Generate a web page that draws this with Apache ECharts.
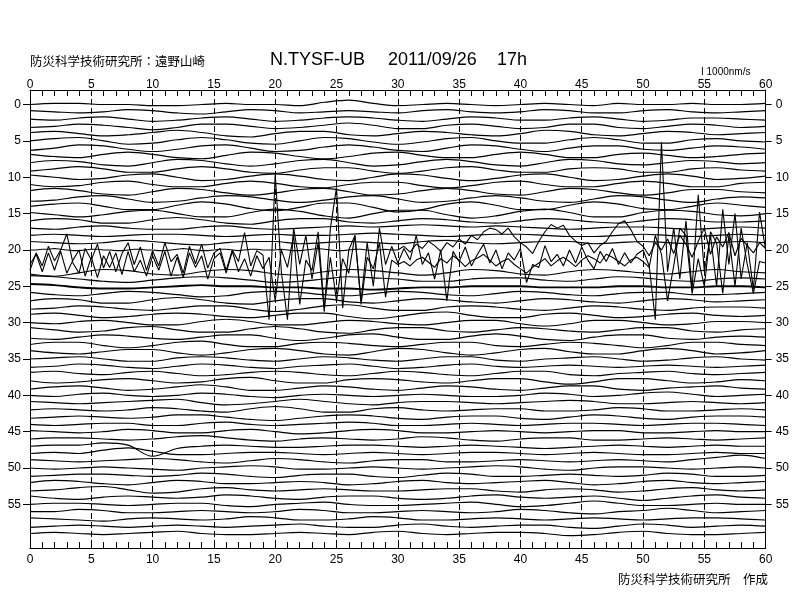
<!DOCTYPE html>
<html><head><meta charset="utf-8">
<script src="https://cdn.jsdelivr.net/npm/echarts@6/dist/echarts.min.js"></script>
<style>html,body{margin:0;padding:0;background:#fff}#c{width:792px;height:612px}</style>
</head><body><div id="c"></div>
<script>
// time grid (seconds within each minute row)
const secondsCoarse = [0,2,4,6,8,10,12,14,16,18,20,22,24,26,28,30,32,34,36,38,40,42,44,46,48,50,52,54,56,58,60];
const secondsFine = [0,0.5,1,1.5,2,2.5,3,3.5,4,4.5,5,5.5,6,6.5,7,7.5,8,8.5,9,9.5,
 10,10.5,11,11.5,12,12.5,13,13.5,14,14.5,15,15.5,16,16.5,17,17.5,18,18.5,19,19.5,
 20,20.5,21,21.5,22,22.5,23,23.5,24,24.5,25,25.5,26,26.5,27,27.5,28,28.5,29,29.5,
 30,30.5,31,31.5,32,32.5,33,33.5,34,34.5,35,35.5,36,36.5,37,37.5,38,38.5,39,39.5,
 40,40.5,41,41.5,42,42.5,43,43.5,44,44.5,45,45.5,46,46.5,47,47.5,48,48.5,49,49.5,
 50,50.5,51,51.5,52,52.5,53,53.5,54,54.5,55,55.5,56,56.5,57,57.5,58,58.5,59,59.5,60];
const rowLabels = [0,5,10,15,20,25,30,35,40,45,50,55];

// quiet rows: amplitude in units of ~150 nm/s, positive = up
const waveTraces = [
 [0,1,1,0,0,-1,-1,0,1,0,0,-1,2,4,1,-1,0,1,0,-1,0,1,0,-1,1,0,0,1,0,0,1],
 [1,0,-1,0,2,1,-1,-2,0,2,1,-1,0,1,0,-1,1,2,0,-1,0,2,1,-1,-1,1,2,0,-1,0,1],
 [0,-1,1,2,0,-2,-1,1,2,0,-2,-1,1,2,1,-1,-2,0,2,1,-1,-1,1,2,0,-2,-1,1,1,0,-1],
 [-1,0,2,1,-1,-3,-1,2,2,0,-2,-1,1,3,1,-2,-2,1,2,0,-2,-1,2,2,-1,-2,0,2,1,-1,0],
 [1,2,0,-2,-1,1,3,1,-2,-3,0,2,2,-1,-2,0,2,1,-1,-2,0,3,2,-1,-2,0,2,1,-1,0,1],
 [0,2,3,0,-3,-2,1,3,1,-2,-3,0,3,2,-1,-3,-1,2,3,0,-2,-2,1,3,1,-2,-2,1,2,0,-1],
 [-2,0,3,2,-1,-3,-1,2,3,0,-3,-2,1,3,1,-2,-3,0,3,2,-1,-3,0,2,2,-1,-2,0,2,1,-1],
 [1,-1,-2,1,3,1,-2,-3,0,3,2,-1,-3,-1,2,3,0,-2,-2,1,3,1,-2,-2,1,2,0,-2,-1,1,2],
 [0,2,1,-2,-3,0,3,2,-1,-3,-1,2,3,0,-3,-2,1,3,1,-2,-3,0,3,2,-1,-2,0,2,1,-1,0],
 [-1,1,3,1,-2,-2,1,3,1,-2,-3,0,2,2,-1,-3,-1,2,3,0,-2,-2,1,2,1,-2,-2,1,2,0,-1],
 [2,0,-2,-1,2,3,0,-3,-2,1,3,1,-2,-3,0,3,2,-1,-3,-1,2,3,0,-3,-2,1,3,1,-2,-1,1],
 [0,-2,-1,2,3,0,-2,-2,1,3,1,-2,-3,0,2,2,-1,-3,-1,2,3,0,-2,-2,1,3,1,-2,-2,1,2],
 [1,3,1,-2,-3,0,3,2,-1,-3,-1,2,3,0,-3,-2,1,3,1,-2,-3,0,3,2,-1,-3,-1,2,2,0,-1],
 [-2,-1,2,3,0,-3,-2,1,3,2,-1,-3,-1,2,3,0,-3,-2,1,3,1,-2,-3,0,3,2,-1,-3,0,2,1],
 [0,2,3,0,-3,-3,1,4,2,-2,-4,-1,3,3,-1,-5,-3,2,4,1,-3,-3,1,4,2,-2,-3,0,3,1,-1],
 [1,-1,-3,-1,2,3,0,-3,-3,1,4,2,-2,-4,0,3,3,-1,-4,-2,2,4,1,-3,-3,1,3,2,-1,-2,0],
 [0,2,1,-2,-2,1,3,1,-2,-3,0,2,2,-1,-2,0,2,1,-1,-2,0,2,1,-1,-2,0,2,1,-1,-1,0],
 [0,-1,1,2,0,-1,-1,1,2,0,-1,0,1,2,1,2,3,2,1,2,1,0,-1,0,1,1,0,-1,0,1,0],
 [0,1,0,-1,0,1,1,0,-1,0,1,0,0,1,2,1,0,-1,0,1,1,0,-1,-1,0,1,0,-1,0,1,0],
 [1,0,-1,0,2,1,-1,-2,0,1,1,-1,0,1,0,-1,1,2,0,-1,0,1,1,-1,0,1,0,-1,0,1,0],
 null,
 null,
 null,
 [-2,-4,-1,2,1,-2,-3,0,2,1,-2,-3,0,2,1,-1,-3,-1,2,1,-2,-3,0,2,1,-1,-2,0,2,0,-1],
 [3,2,0,-2,-3,-1,1,2,1,-1,-3,-2,0,2,1,0,-2,-2,0,1,1,-1,-2,0,2,1,-1,-2,0,1,0],
 [2,1,-1,-2,-2,-1,0,1,0,0,-1,-1,-2,-2,-3,-2,-1,-1,0,0,0,-1,-1,-1,0,0,-1,-1,0,0,-1],
 [1,-1,-2,0,2,1,-1,-3,-2,1,2,1,-1,-2,0,2,1,-1,-2,0,2,1,-1,-2,0,1,1,-1,-1,0,1],
 [0,2,1,-2,-2,1,3,1,-2,-3,0,2,2,-1,-2,0,2,1,-1,-2,0,2,1,-1,-2,0,2,1,-1,0,1],
 [-1,0,2,1,-1,-2,0,2,2,-1,-3,-1,2,3,0,-2,-2,1,2,1,-1,-2,0,2,1,-1,-2,0,1,1,0],
 [1,2,0,-2,-1,1,2,1,-1,-2,0,2,2,-1,-3,-1,2,3,0,-2,-2,1,2,0,-2,-1,1,2,0,-1,0],
 [0,-1,1,2,0,-2,-2,1,3,1,-2,-2,0,2,1,-1,-2,0,2,2,-1,-3,-1,2,2,0,-2,-1,1,1,0],
 [2,0,-2,-1,2,3,0,-2,-2,1,3,1,-2,-3,0,2,2,-1,-2,0,2,1,-1,-2,0,2,2,-1,-2,0,1],
 [-1,-2,0,2,1,-1,-2,0,2,2,-1,-3,-1,2,3,0,-2,-2,1,3,1,-2,-3,0,2,2,-1,-2,0,1,0],
 [0,2,2,-1,-3,-1,2,3,0,-2,-2,1,2,1,-1,-2,0,2,2,-1,-2,0,2,1,-1,-3,-1,2,2,0,-1],
 [1,-1,-2,0,2,2,-1,-3,-1,2,3,1,-2,-3,0,3,2,-1,-3,-1,2,3,0,-2,-2,1,3,1,-2,-1,1],
 [0,1,2,0,-2,-2,1,2,1,-1,-2,0,2,1,-1,-2,0,2,2,-1,-2,0,1,2,0,-2,-1,1,2,0,-1],
 [-1,0,2,1,-1,-2,0,2,1,-1,-2,0,1,2,0,-2,-1,1,2,0,-1,0,1,0,-1,0,1,0,-1,0,1],
 [1,2,0,-1,1,2,0,-2,-1,1,2,1,-1,-2,0,2,1,-1,-2,0,2,2,-1,-2,0,1,2,0,-1,0,1],
 [0,-2,-1,1,2,0,-2,-1,2,3,0,-2,-2,1,2,1,-1,-2,0,2,2,-1,-3,-1,2,2,0,-2,-1,1,0],
 [-1,1,2,0,-2,-1,1,3,1,-2,-2,0,2,1,-1,-2,0,2,1,-1,-2,0,2,2,-1,-2,0,1,2,0,-1],
 [0,-1,1,2,0,-1,0,2,1,-1,-2,0,1,0,-1,0,1,0,-1,-1,0,2,1,-1,0,2,3,1,-1,0,1],
 [1,0,-1,0,1,2,3,0,-2,-1,1,3,1,-1,-2,0,1,1,0,-1,0,1,2,1,-1,-1,0,1,0,-1,0],
 [0,1,0,-1,0,2,1,-1,-2,1,3,1,-2,-2,1,2,0,-1,0,1,1,-1,-1,0,2,1,-1,-1,0,1,0],
 [-1,0,1,0,-1,0,2,2,0,-2,-3,-1,1,2,1,-1,-2,0,1,1,-1,-2,0,2,1,-1,-2,0,1,1,0],
 [0,-1,0,1,1,-1,-1,1,2,0,-1,0,1,2,1,-1,-1,0,1,0,-1,0,1,1,0,-1,0,1,1,0,-1],
 [1,0,-1,0,2,1,-1,-1,1,2,0,-2,-1,1,2,1,-1,-1,0,1,0,-1,0,1,1,-1,-1,0,1,0,0],
 [0,1,1,0,-1,0,2,3,1,-1,-2,0,1,0,-1,0,2,1,-1,-2,0,1,1,-1,-1,0,1,0,-1,0,1],
 [0,1,1,3,1,-9,-2,0,1,0,-1,-1,0,1,1,0,-1,0,1,0,-1,-2,-1,0,1,0,-1,0,1,0,0],
 [0,1,0,3,5,2,-1,-1,0,1,1,0,-1,0,1,0,-1,0,1,1,0,-1,0,1,0,-1,-1,0,1,0,0],
 [1,0,-1,0,1,2,1,-1,-2,0,2,1,-1,-2,0,1,1,-1,-1,0,1,0,-1,0,1,0,-1,1,3,5,2],
 [0,-1,0,1,0,-1,-2,0,1,2,1,-1,-1,0,1,0,-1,0,1,2,1,-1,-2,0,1,1,0,-1,0,1,0],
 [-1,0,1,1,0,-1,0,2,1,-1,-2,0,1,1,-1,-2,0,2,1,-1,-1,0,1,0,-1,0,2,1,-1,-1,0],
 [0,2,1,-1,-2,0,2,1,-1,-1,0,1,0,-2,-1,1,2,0,-1,0,1,2,0,-2,-1,1,2,0,-1,0,1],
 [-1,0,2,3,0,-3,-2,1,2,0,-1,0,1,0,-1,-1,0,1,1,-1,-2,0,1,0,-2,-1,1,2,0,-1,0],
 [1,-1,-2,0,1,0,-1,0,2,1,-1,-2,0,1,1,-1,-2,-1,1,2,0,-1,0,1,-1,-3,-1,1,2,0,-1],
 [0,1,1,0,-1,0,1,1,-1,-2,0,1,2,0,-1,-1,0,1,2,0,-2,-1,1,3,1,-1,-1,0,1,0,0],
 [0,0,2,1,-1,-1,0,1,0,-1,0,2,1,-1,-1,0,1,0,-1,0,2,1,-1,-2,0,1,3,1,-1,0,1],
 [1,0,-1,-2,0,1,0,-1,0,2,1,-1,-1,0,2,1,-1,-1,0,1,0,-1,0,1,0,-1,0,1,1,0,-1],
 [-1,0,1,0,-1,0,1,0,-1,0,1,2,0,-1,-1,1,2,0,-1,0,1,1,-1,-2,0,2,1,-1,0,1,0],
 [0,1,0,-1,0,1,2,0,-1,-1,0,1,0,-1,1,2,0,-1,0,1,1,0,-2,-1,1,2,0,-1,-1,0,1]
];
const quietUnitsPerRow = 6.5;

// disturbed rows, sampled every 0.5 s, units of 100 nm/s
const row20Fine = [0,0,1,1,2,1,0,-1,-1,0,1,1,0,0,-1,-1,0,1,1,0,
 0,-1,-1,0,1,2,1,0,-1,-1,0,1,1,0,-1,0,1,1,0,0,
 0,1,0,-1,-1,0,1,2,1,0,-1,-1,0,1,1,0,-1,0,1,0,
 0,5,-3,8,2,12,6,-2,10,4,15,8,20,14,25,30,28,22,30,18,
 10,4,-5,12,25,35,30,34,20,12,6,10,-4,6,12,25,36,40,28,12,
 5,-8,10,0,15,-5,20,8,-10,12,30,-6,18,4,24,-8,16,6,-4,10,2];
const row21Fine = [-18,6,-12,15,-5,10,32,-8,-22,12,-4,18,-15,8,-20,5,20,-10,14,-18,
 9,-12,20,-6,4,-22,15,-9,18,-15,6,12,-18,10,-6,34,-12,9,3,-86,
 114,-20,-86,40,-10,30,-30,20,-75,40,96,-70,10,30,-60,20,-40,40,-10,15,
 -8,12,-4,30,-10,6,-30,10,-60,8,-6,14,-12,4,18,-8,10,-16,6,-4,
 12,-35,-10,-14,16,-6,4,-12,10,-8,14,-4,-16,8,-6,12,-10,6,-8,4,
 10,-12,-86,158,-20,40,-30,50,-44,86,-20,30,-40,66,-10,60,-30,20,-44,62,10];
const row22Fine = [0,14,-10,16,-8,18,-12,6,20,-16,10,-18,12,-4,16,-14,18,-10,6,-16,
 12,-8,18,-16,10,-18,16,-4,12,-20,8,16,-12,18,-10,8,-16,12,-6,10,
 -50,20,-4,40,-55,6,-8,45,-60,10,-50,8,-12,40,-55,10,-6,30,-45,6,
 0,4,-2,6,10,3,-4,8,2,12,6,-3,5,9,14,6,-2,4,8,0,
 -6,-12,-4,2,8,-2,5,10,4,-3,6,12,8,2,14,10,4,-2,6,10,
 4,-4,40,14,-50,-2,50,40,-40,8,-30,45,30,-40,40,-30,50,0,-40,4,2];
const fineUnitsPerRow = 10;

const series = [];
waveTraces.forEach((vals, r) => {
  if (!vals) return;
  series.push({
    type: 'line', xAxisIndex: 0, yAxisIndex: 0, silent: true, animation: false,
    symbol: 'none', smooth: 0.35,
    lineStyle: { color: '#000', width: r === 25 ? 1.9 : 1.15 },
    data: vals.map((v, i) => [secondsCoarse[i], r - v / quietUnitsPerRow])
  });
});
[[20, row20Fine], [21, row21Fine], [22, row22Fine]].forEach(([r, vals]) => {
  series.push({
    type: 'line', xAxisIndex: 0, yAxisIndex: 0, silent: true, animation: false,
    symbol: 'none', smooth: false,
    lineStyle: { color: '#000', width: 1.1 },
    data: vals.map((v, i) => [secondsFine[i], r - v / fineUnitsPerRow])
  });
});

const labelFont = { color: '#000', fontSize: 12, fontFamily: 'Liberation Sans' };
function xAx(pos) {
  return {
    type: 'value', min: 0, max: 60, interval: 5, position: pos,
    axisLine: { show: true, onZero: false, lineStyle: { color: '#000', width: 1 } },
    axisTick: { show: true, inside: true, length: 6, lineStyle: { color: '#000' } },
    minorTick: { show: true, splitNumber: 5, length: 6, lineStyle: { color: '#000' } },
    axisLabel: Object.assign({ margin: pos === 'top' ? -1 : 6, showMinLabel: true, showMaxLabel: true }, labelFont),
    splitLine: { show: pos === 'bottom', lineStyle: { color: '#000', width: 1, type: [6, 3] } }
  };
}
function yAx(pos) {
  return {
    type: 'value', inverse: true, min: -2, max: 61, position: pos,
    axisLine: { show: true, onZero: false, lineStyle: { color: '#000', width: 1 } },
    axisTick: { show: true, inside: false, length: pos === 'left' ? 7 : 6, customValues: rowLabels, lineStyle: { color: '#000' } },
    axisLabel: Object.assign({ margin: pos === 'left' ? 9 : 10, customValues: rowLabels }, labelFont),
    splitLine: { show: false }
  };
}

const chart = echarts.init(document.getElementById('c'), null, { renderer: 'canvas' });
chart.setOption({
  backgroundColor: '#fff',
  animation: false,
  grid: { left: 30, right: 24, top: 90, bottom: 64, containLabel: false },
  xAxis: [xAx('bottom'), xAx('top')],
  yAxis: [yAx('left'), yAx('right')],
  series: series,
  graphic: [
    { type: 'text', x: 30, y: 61, style: { text: '防災科学技術研究所：遠野山崎', font: '12.5px "Noto Sans CJK JP"', fill: '#000', verticalAlign: 'middle' } },
    { type: 'text', x: 270, y: 60, style: { text: 'N.TYSF-UB', font: '18px "Liberation Sans"', fill: '#000', verticalAlign: 'middle' } },
    { type: 'text', x: 388, y: 60, style: { text: '2011/09/26', font: '18px "Liberation Sans"', fill: '#000', verticalAlign: 'middle' } },
    { type: 'text', x: 497, y: 60, style: { text: '17h', font: '18px "Liberation Sans"', fill: '#000', verticalAlign: 'middle' } },
    { type: 'text', x: 701, y: 72, style: { text: 'I 1000nm/s', font: '10px "Liberation Sans"', fill: '#000', verticalAlign: 'middle' } },
    { type: 'text', x: 618, y: 579, style: { text: '防災科学技術研究所　作成', font: '12.5px "Noto Sans CJK JP"', fill: '#000', verticalAlign: 'middle' } }
  ]
});
</script></body></html>
